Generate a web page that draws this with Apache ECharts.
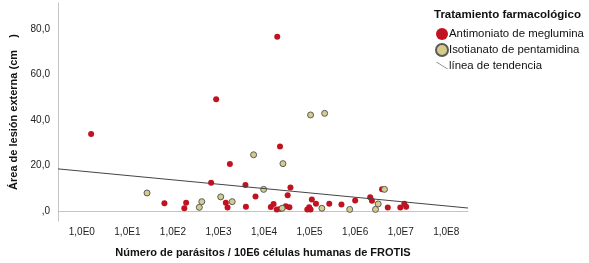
<!DOCTYPE html>
<html>
<head>
<meta charset="utf-8">
<script src="https://cdn.jsdelivr.net/npm/echarts@6/dist/echarts.min.js"></script>
<style>
	html, body { margin: 0; padding: 0; background: #fff; }
	#chart { width: 589px; height: 263px; }
</style>
</head>
<body>
<div id="chart"></div>
<script>
	// Antimoniato de meglumina (rojo)
	const antimoniatoX = [1.6, 65, 195, 178, 690, 890, 1780, 1450, 1580, 3900, 4000, 6500,
		19500, 22400, 38000, 33000, 14100, 16200, 19000, 23000, 30000, 36000,
		89000, 98000, 105000, 112000, 138000, 270000, 500000, 1000000, 2140000, 2340000,
		3900000, 5200000, 9800000, 12000000, 13200000]
	const antimoniatoY = [33.8, 3.4, 3.6, 1.2, 12.4, 49.1, 20.7, 3.6, 1.5, 11.4, 1.9, 6.4,
		76.6, 28.3, 10.3, 6.9, 1.8, 3.1, 0.7, 1.0, 2.1, 1.6,
		0.7, 1.6, 0.7, 5.1, 3.2, 3.2, 2.8, 4.6, 6.0, 4.5,
		9.5, 1.5, 1.5, 3.2, 1.9]
	// Isotianato de pentamidina (caqui)
	const isotianatoX = [27, 430, 380, 1120, 2000, 5900, 26000, 9800, 25000, 105000, 214000,
		186000, 760000, 2800000, 3200000, 4400000]
	const isotianatoY = [7.9, 4.1, 1.6, 6.2, 4.1, 24.7, 20.8, 9.5, 1.2, 42.2, 42.9,
		1.2, 0.7, 0.7, 3.1, 9.5]
	// línea de tendencia (extremos)
	const trendX = [0.3, 3e8]
	const trendY = [18.5, 1.3]
	const yTicks = [0, 20, 40, 60, 80]

	const pairs = (xs, ys) => xs.map((x, i) => [x, ys[i]])
	const fontFam = '"Liberation Sans", Arial, sans-serif'

	const chart = echarts.init(document.getElementById('chart'))
	const option = {
		animation: false,
		textStyle: { fontFamily: fontFam },
		grid: { left: 58, right: 121, top: 3, bottom: 42 },
		legend: {
			orient: 'vertical',
			left: 430,
			top: 23,
			itemWidth: 12,
			itemHeight: 12,
			itemGap: 3,
			textStyle: { fontSize: 11.4, color: '#111', padding: [0, 0, 0, -4] },
			data: [
				{ name: 'Antimoniato de meglumina', icon: 'circle' },
				{ name: 'Isotianato de pentamidina', icon: 'circle' },
				{ name: 'línea de tendencia', icon: 'path://M0,0L1,0L12,7L11,7Z' }
			]
		},
		graphic: [{
			type: 'text',
			left: 434,
			top: 9,
			style: { text: 'Tratamiento farmacológico', font: 'bold 11.5px ' + fontFam, fill: '#111' }
		}],
		xAxis: {
			type: 'log',
			logBase: 10,
			min: trendX[0],
			max: trendX[1],
			name: 'Número de parásitos / 10E6 células humanas de FROTIS',
			nameLocation: 'middle',
			nameGap: 26,
			nameTextStyle: { fontWeight: 'bold', fontSize: 11, color: '#111' },
			axisLine: { lineStyle: { color: '#c4c4c4' } },
			axisTick: { show: false },
			splitLine: { show: false },
			axisLabel: {
				fontSize: 10,
				color: '#222',
				margin: 6,
				showMinLabel: false,
				showMaxLabel: false,
				formatter: v => '1,0E' + Math.round(Math.log10(v))
			}
		},
		yAxis: {
			type: 'value',
			min: -4.4,
			max: 91.4,
			name: 'Área de lesión externa (cm    )',
			nameLocation: 'middle',
			nameGap: 32,
			nameTextStyle: { fontWeight: 'bold', fontSize: 11, color: '#111' },
			axisLine: { show: true, lineStyle: { color: '#c4c4c4' } },
			axisTick: { show: false },
			splitLine: { show: false },
			axisLabel: {
				fontSize: 10,
				color: '#222',
				margin: 8,
				customValues: yTicks,
				formatter: v => v === 0 ? ',0' : v.toFixed(1).replace('.', ',')
			}
		},
		series: [{
			name: 'Antimoniato de meglumina',
			type: 'scatter',
			symbolSize: 6,
			itemStyle: { color: '#c1121f', opacity: 1 },
			data: pairs(antimoniatoX, antimoniatoY)
		}, {
			name: 'Isotianato de pentamidina',
			type: 'scatter',
			symbolSize: 6,
			itemStyle: { color: '#d4cc8c', borderColor: '#5a5a5a', borderWidth: 1, opacity: 1 },
			data: pairs(isotianatoX, isotianatoY)
		}, {
			name: 'línea de tendencia',
			type: 'line',
			symbol: 'none',
			silent: true,
			lineStyle: { color: '#444', width: 1 },
			itemStyle: { color: '#555' },
			data: pairs(trendX, trendY)
		}]
	}
	chart.setOption(option)
</script>
</body>
</html>
